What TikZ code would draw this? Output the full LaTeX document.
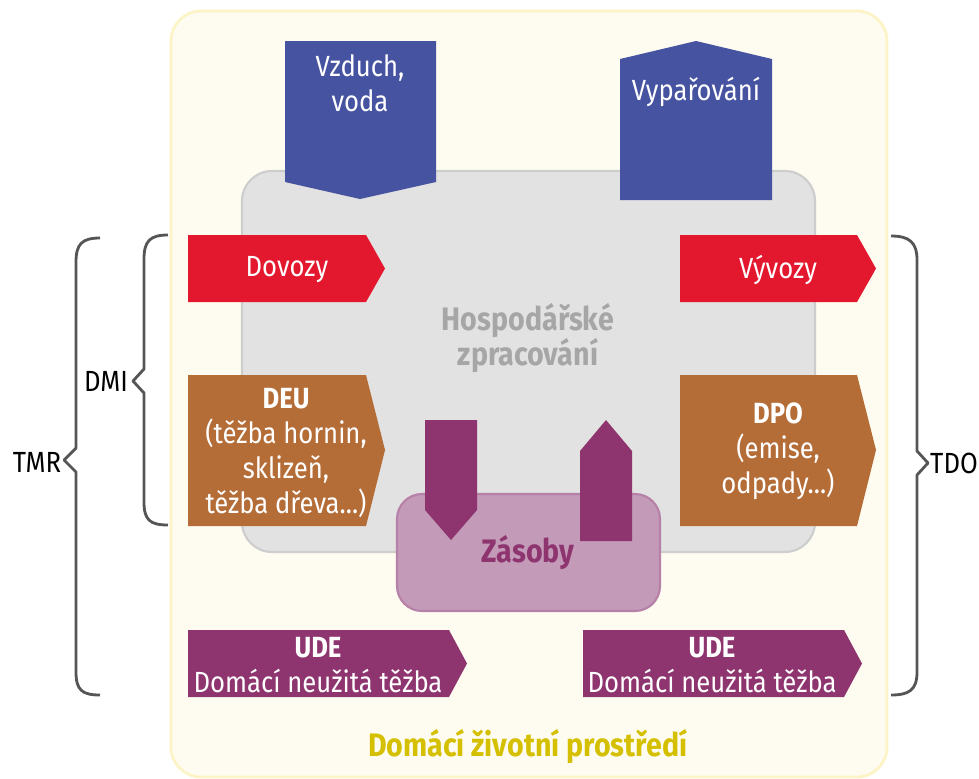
\documentclass[tikz,border=0pt]{standalone}
\usepackage{fontspec}
\setmainfont{Fira Sans}[FakeStretch=0.88]
\usepackage{xcolor}

\definecolor{prostredi}{HTML}{FEFCF0}
\definecolor{prostrediokraj}{HTML}{FCF4C6}
\definecolor{sedapole}{HTML}{E2E2E2}
\definecolor{sedaokraj}{HTML}{CDCDCD}
\definecolor{modra}{HTML}{4653A0}
\definecolor{cervena}{HTML}{E3172D}
\definecolor{hneda}{HTML}{B56D38}
\definecolor{fialova}{HTML}{8E3570}
\definecolor{zasobypole}{HTML}{C39AB7}
\definecolor{zasobyokraj}{HTML}{B680A8}
\definecolor{zluta}{HTML}{D4BF00}
\definecolor{zavorka}{HTML}{555555}

\begin{document}
\begin{tikzpicture}[x=0.02cm, y=-0.02cm,
    popis/.style={text=white, align=center, font=\fontsize{16.6}{19.8}\selectfont},
    tucny/.style={align=center, font=\fontsize{18.5}{20}\selectfont\bfseries},
    znacka/.style={font=\fontsize{16.6}{18}\selectfont},
    zavorka/.style={draw=zavorka, line width=1.6pt, line join=round}]

    \useasboundingbox (0,0) rectangle (979,778);

    % Domaci zivotni prostredi
    \filldraw[fill=prostredi, draw=prostrediokraj, line width=1.6pt, rounded corners=0.6cm]
        (171,11) rectangle (887,777);

    % Hospodarske zpracovani
    \filldraw[fill=sedapole, draw=sedaokraj, line width=1.2pt, rounded corners=0.6cm]
        (242,171) rectangle (815,552);

    % Vzduch, voda (dolu)
    \fill[modra] (285,41) -- (436,41) -- (436,182) -- (360,199) -- (285,182) -- cycle;
    % Vyparovani (nahoru)
    \fill[modra] (620,200) -- (772,200) -- (772,59) -- (696,41) -- (620,59) -- cycle;

    % Dovozy, Vyvozy
    \fill[cervena] (188,235) -- (366,235) -- (385,268.5) -- (366,302) -- (188,302) -- cycle;
    \fill[cervena] (680,235) -- (857,235) -- (876,268.5) -- (857,302) -- (680,302) -- cycle;

    % DEU, DPO
    \fill[hneda] (188,375) -- (366,375) -- (385,450) -- (366,526) -- (188,526) -- cycle;
    \fill[hneda] (680,375) -- (857,375) -- (876,450) -- (857,526) -- (680,526) -- cycle;

    % Zasoby
    \filldraw[fill=zasobypole, draw=zasobyokraj, line width=1.2pt, rounded corners=0.5cm]
        (397,494) rectangle (660,611);
    \fill[fialova] (425,420) -- (477,420) -- (477,510) -- (451,540) -- (425,510) -- cycle;
    \fill[fialova] (580,541) -- (632,541) -- (632,451) -- (606,420) -- (580,451) -- cycle;

    % UDE
    \fill[fialova] (188,630) -- (449,630) -- (467,663.5) -- (449,697) -- (188,697) -- cycle;
    \fill[fialova] (583,630) -- (844,630) -- (862,663.5) -- (844,697) -- (583,697) -- cycle;

    % zavorky
    \draw[zavorka] (100,238) .. controls (82,238) and (76,244) .. (76,262) -- (76,448)
        -- (64,460) -- (76,472) -- (76,672) .. controls (76,690) and (82,695) .. (100,695);
    \draw[zavorka] (168,235) .. controls (150,235) and (144,241) .. (144,259) -- (144,369)
        -- (133,381) -- (144,393) -- (144,502) .. controls (144,520) and (150,525) .. (168,525);
    \draw[zavorka] (891,236) .. controls (909,236) and (917,242) .. (917,260) -- (917,451)
        -- (928,463) -- (917,475) -- (917,672) .. controls (917,690) and (909,695) .. (891,695);

    % popisky
    \node[popis] (vzduch) at (360,83) {Vzduch,\\voda};
    \node[popis] (vypar) at (696,92) {Vypařování};
    \node[popis] (dovozy) at (287,270) {Dovozy};
    \node[popis] (vyvozy) at (778,270) {Vývozy};
    \node[tucny, text=black!35] (hosp) at (528,338) {Hospodářské\\zpracování};
    \node[popis] (deu) at (286,453) {\textbf{DEU}\\(těžba hornin,\\sklizeň,\\těžba dřeva...)};
    \node[popis] (dpo) at (778,451) {\textbf{DPO}\\(emise,\\odpady...)};
    \node[tucny, text=fialova] (zasoby) at (528,553) {Zásoby};
    \node[popis] (udeL) at (318,665) {\textbf{UDE}\\Domácí neužitá těžba};
    \node[popis] (udeP) at (712,665) {\textbf{UDE}\\Domácí neužitá těžba};
    \node[tucny, text=zluta] (prostr) at (528,747) {Domácí životní prostředí};
    \node[znacka] (tmr) at (37,462) {TMR};
    \node[znacka] (dmi) at (106,381) {DMI};
    \node[znacka] (tdo) at (954,463) {TDO};

\end{tikzpicture}
\end{document}
